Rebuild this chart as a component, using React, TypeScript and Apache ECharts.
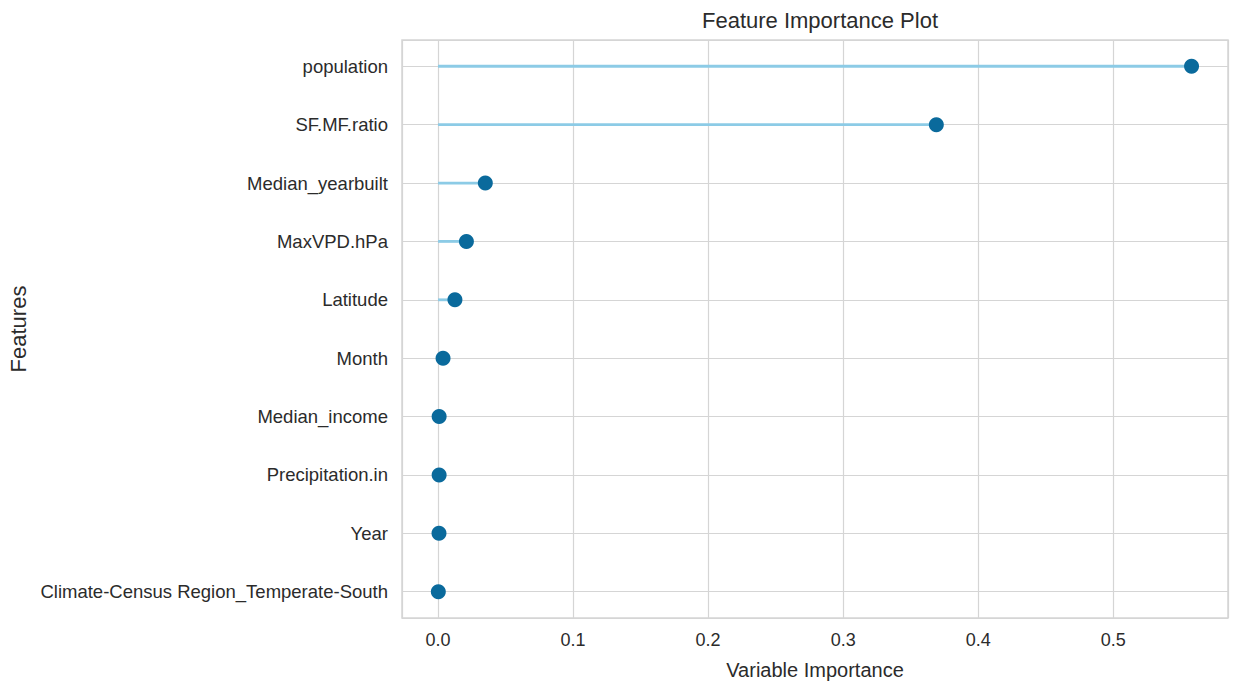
import React, { useEffect, useRef } from "react";
import * as echarts from "echarts";

// Features, from top to bottom
const features: string[] = [
  "population",
  "SF.MF.ratio",
  "Median_yearbuilt",
  "MaxVPD.hPa",
  "Latitude",
  "Month",
  "Median_income",
  "Precipitation.in",
  "Year",
  "Climate-Census Region_Temperate-South",
];

// Importance of each feature
const importance: number[] = [0.558, 0.369, 0.035, 0.021, 0.0125, 0.0037, 0.0008, 0.0008, 0.0007, 0.0002];

const FONT = "'Liberation Sans', Arial, sans-serif";
const TEXT = "#2b2b2b";
const GRID = "#d5d5d5";
const STEM = "#8ccbe6";
const DOT = "#0a6a9c";

export default function App() {
  const ref = useRef<HTMLDivElement>(null);

  useEffect(() => {
    if (!ref.current) return;
    const chart = echarts.init(ref.current, undefined, { renderer: "svg" });

    const points = importance.map((v, i) => [v, i]);

    chart.setOption({
      animation: false,
      backgroundColor: "#ffffff",
      title: {
        text: "Feature Importance Plot",
        left: 815,
        textAlign: "center",
        top: 4,
        textStyle: { fontFamily: FONT, fontSize: 22, fontWeight: "normal", color: TEXT },
      },
      grid: {
        left: 402,
        right: 8,
        top: 40,
        bottom: 69,
        show: true,
        borderColor: GRID,
        borderWidth: 1.5,
        containLabel: false,
        outerBoundsMode: "none",
      },
      xAxis: {
        type: "value",
        min: -0.0267,
        max: 0.585,
        splitNumber: 6,
        name: "Variable Importance",
        nameLocation: "middle",
        nameGap: 42,
        nameTextStyle: { fontFamily: FONT, fontSize: 20, color: TEXT },
        axisLine: { show: false },
        axisTick: { show: false },
        axisLabel: {
          showMinLabel: false,
          showMaxLabel: false,
          margin: 13,
          fontFamily: FONT,
          fontSize: 18,
          color: TEXT,
          formatter: (v: number) => v.toFixed(1),
        },
        splitLine: { show: true, lineStyle: { color: GRID, width: 1.2 } },
      },
      yAxis: {
        type: "value",
        inverse: true,
        min: -0.45,
        max: 9.45,
        splitNumber: 10,
        name: "Features",
        nameLocation: "middle",
        nameGap: 370,
        nameRotate: 90,
        nameTextStyle: { fontFamily: FONT, fontSize: 22, color: TEXT },
        axisLine: { show: false },
        axisTick: { show: false },
        axisLabel: {
          showMinLabel: false,
          showMaxLabel: false,
          margin: 14,
          fontFamily: FONT,
          fontSize: 18.5,
          color: TEXT,
          formatter: (v: number) => (Number.isInteger(v) ? features[v] ?? "" : ""),
        },
        splitLine: { show: true, lineStyle: { color: GRID, width: 1.2 } },
      },
      series: [
        {
          type: "custom",
          data: points,
          renderItem: (params: any, api: any) => {
            const v = api.value(0);
            const i = api.value(1);
            const a = api.coord([0, i]);
            const b = api.coord([v, i]);
            return {
              type: "line",
              shape: { x1: a[0], y1: a[1], x2: b[0], y2: b[1] },
              style: { stroke: STEM, lineWidth: 2.8 },
            };
          },
          silent: true,
        },
        {
          type: "scatter",
          data: points,
          symbol: "circle",
          symbolSize: 15,
          itemStyle: { color: DOT, opacity: 1 },
          silent: true,
        },
      ],
    });

    return () => chart.dispose();
  }, []);

  return (
    <div
      ref={ref}
      style={{ position: "absolute", left: 0, top: 0, width: 1236, height: 687 }}
    />
  );
}
